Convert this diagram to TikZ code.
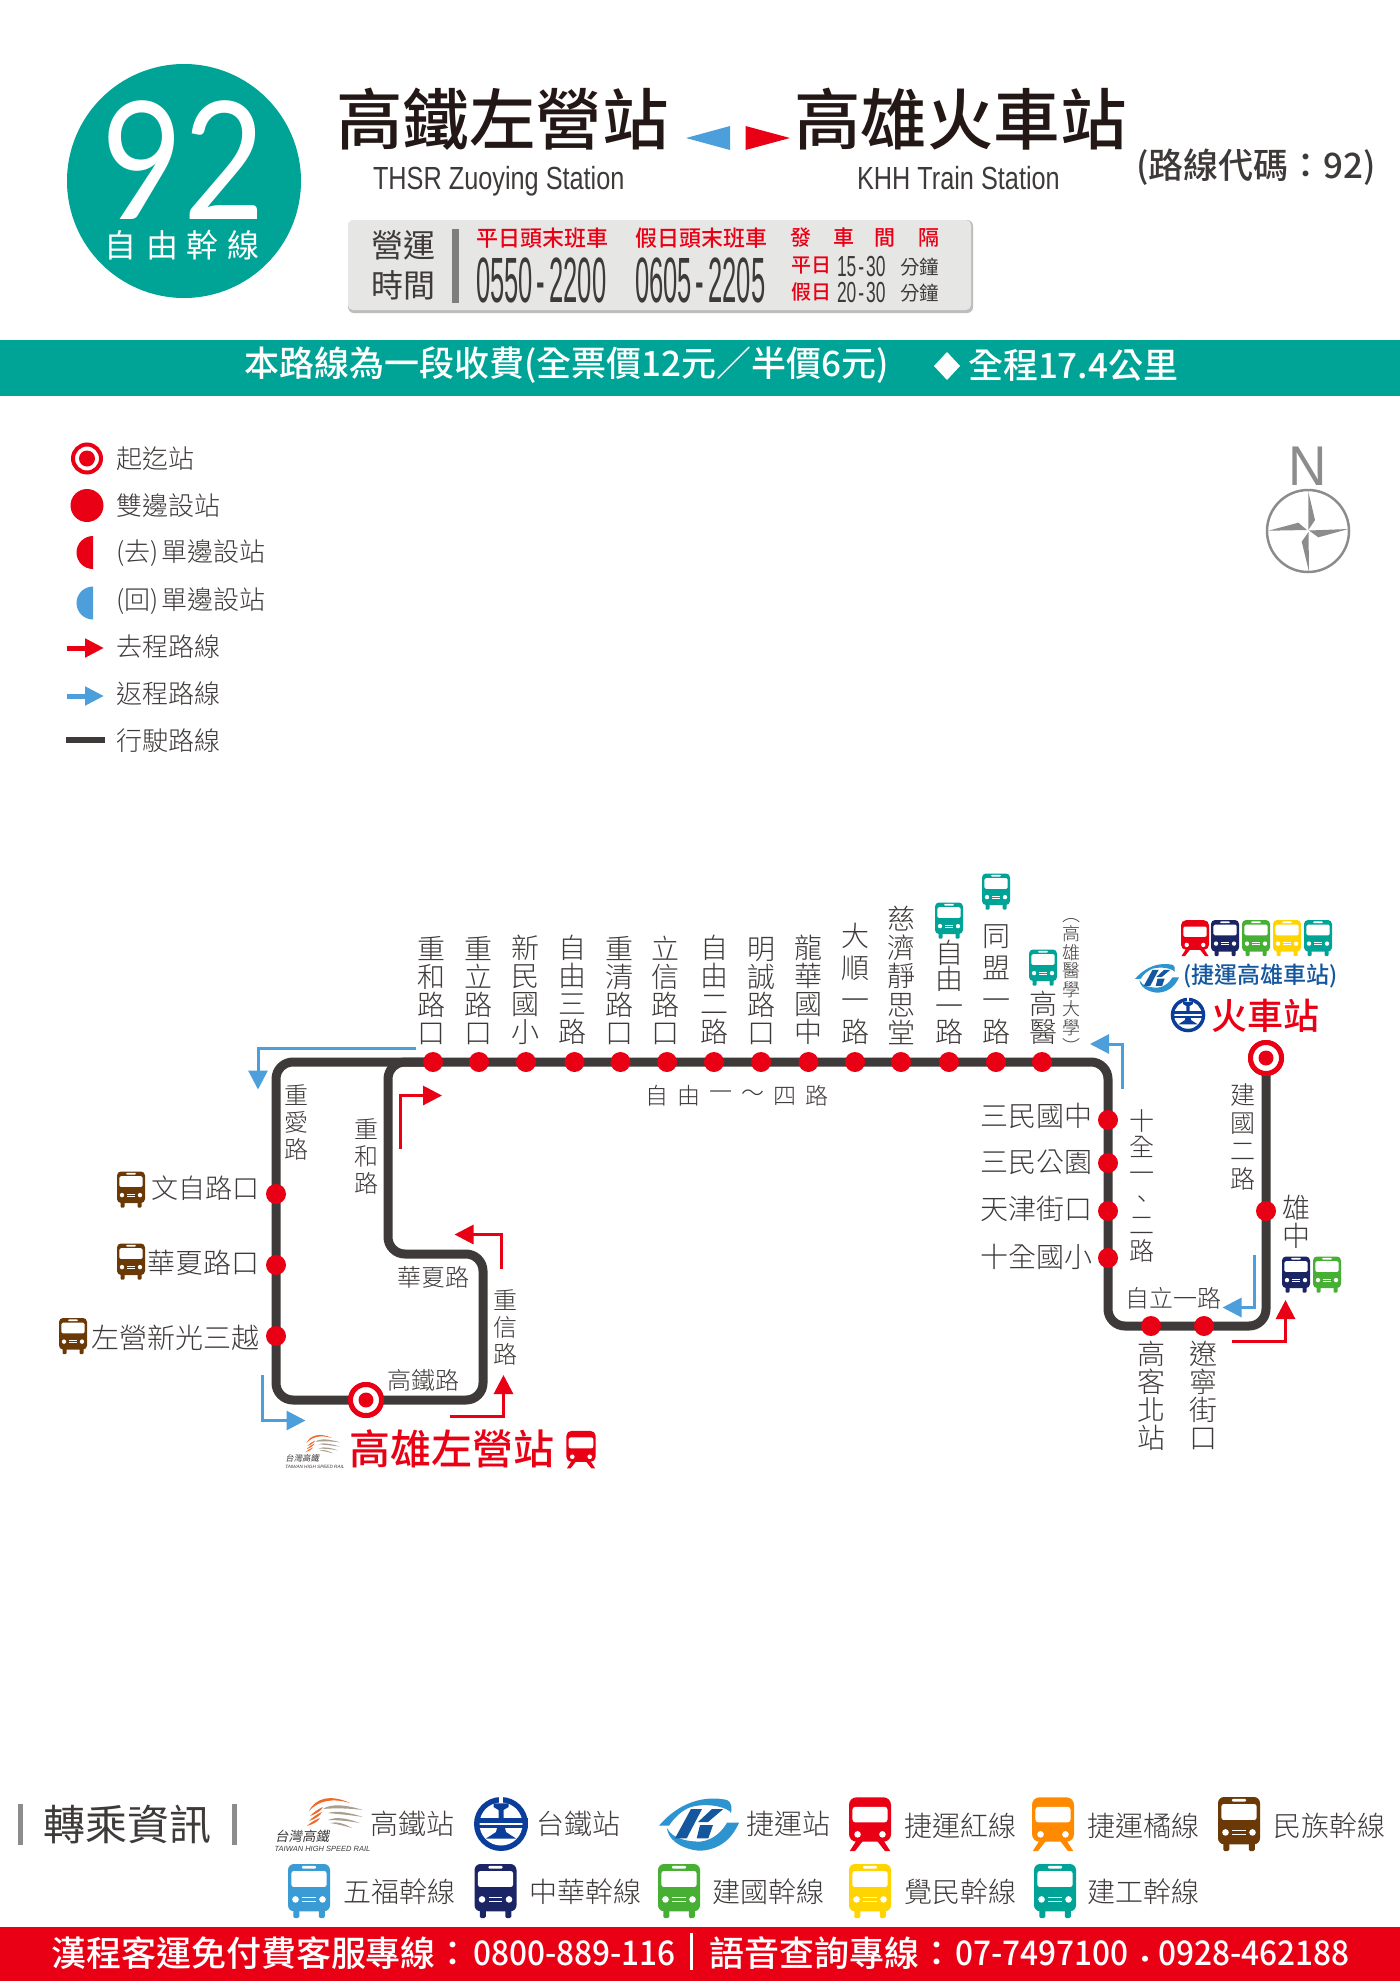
\documentclass[tikz,border=0pt]{standalone}
\usepackage{fontspec}
\usetikzlibrary{arrows.meta}
\setmainfont{Noto Sans CJK TC}[UprightFont=* Light,BoldFont=* Bold]
\newfontfamily\cjkreg{Noto Sans CJK TC}
\newfontfamily\cjkbold{Noto Sans CJK TC Medium}
\newfontfamily\cjkheavy{Noto Sans CJK TC Bold}
\newfontfamily\cjkslant{Noto Sans CJK TC}[FakeSlant=.2]
\newfontfamily\numlight{Lato}[FakeStretch=.86]
\newfontfamily\hoursf{Liberation Sans}[FakeStretch=.4]
\newfontfamily\minf{Liberation Sans}[FakeStretch=.6]
\newfontfamily\thsrf{Liberation Sans}[FakeStretch=.79]
\newfontfamily\footf{Noto Sans CJK TC Medium}[FakeStretch=.93]
\newfontfamily\nf{Liberation Sans}[FakeStretch=.95]
\newfontfamily\kf{Liberation Sans}
\definecolor{teal92}{HTML}{00A497}
\definecolor{redx}{HTML}{EA0014}
\definecolor{bluex}{HTML}{4C9FDB}
\definecolor{ink}{HTML}{3E3A39}
\definecolor{title}{HTML}{231815}
\definecolor{brownx}{HTML}{6A3906}
\definecolor{navyx}{HTML}{1B2465}
\definecolor{greenx}{HTML}{47B034}
\definecolor{yellowx}{HTML}{FFD400}
\definecolor{skyx}{HTML}{3A9BD5}
\definecolor{orangex}{HTML}{FF8A00}
\definecolor{trablue}{HTML}{0B3E9A}
\definecolor{kblue}{HTML}{14579E}
\definecolor{kcyan}{HTML}{2E94D0}
\definecolor{gboxc}{HTML}{E6E6E5}
\definecolor{gshadow}{HTML}{BDBDBD}
\definecolor{compass}{HTML}{8C8C8C}
\definecolor{swo}{HTML}{EE6A2C}
\definecolor{swg}{HTML}{A89F90}
\newcommand\fz[1]{\fontsize{#1}{#1}\selectfont}
\tikzset{
  x=1pt,y=-1pt,
  every node/.style={inner sep=0pt,outer sep=0pt,text=ink},
  vt/.style 2 args={align=center,font=\fontsize{#1}{#2}\selectfont},
  stn/.style={circle,fill=redx,minimum size=20pt},
  termo/.style={circle,fill=white,draw=redx,line width=5pt,minimum size=31pt},
  termi/.style={circle,fill=redx,minimum size=15pt},
  route/.style={draw=ink,line width=9pt,rounded corners=17pt},
  goarrow/.style={draw=redx,line width=3pt,-{Triangle[length=19pt,width=19pt]}},
  backarrow/.style={draw=bluex,line width=3pt,-{Triangle[length=19pt,width=19pt]}},
}
\newcommand\busicon[4]{\begin{scope}[shift={(#1,#2)},scale=#4]
  \fill[#3,rounded corners=#4*1pt] (-10.5,10) rectangle (-6.5,18);\fill[#3,rounded corners=#4*1pt] (6.5,10) rectangle (10.5,18);
  \fill[#3,rounded corners=#4*4pt] (-14,-18) rectangle (14,13.5);
  \fill[white,rounded corners=#4*1.5pt] (-11.7,-13.3) rectangle (11.7,-2.7);
  \fill[white,rounded corners=#4*.8pt] (-4.8,-16.7) rectangle (4.8,-14.9);
  \fill[white] (-9,5.6) circle[radius=2.2];\fill[white] (9,5.6) circle[radius=2.2];
  \fill[white] (-4.4,4) rectangle (4.4,4.8);\fill[white] (-4.4,6.4) rectangle (4.4,7.2);
\end{scope}}
\newcommand\trainicon[4]{\begin{scope}[shift={(#1,#2)},scale=#4]
  \fill[#3] (-9,11) -- (-4.5,11) -- (-10,18) -- (-13.5,18) -- cycle;
  \fill[#3] (9,11) -- (4.5,11) -- (10,18) -- (13.5,18) -- cycle;
  \fill[#3,rounded corners=#4*5pt] (-14,-17.8) rectangle (14,11.8);
  \fill[white,rounded corners=#4*2pt] (-11.7,-11.5) rectangle (11.7,-1.1);
  \fill[white] (-8.3,6.9) circle[radius=2.2];\fill[white] (8.3,6.9) circle[radius=2.2];
\end{scope}}
\newcommand\tralogo[3]{\begin{scope}[shift={(#1,#2)},scale=#3]
  \fill[trablue] (0,0) circle[radius=27];
  \fill[white] (0,0) circle[radius=21.5];
  \fill[white] (-2,-28) rectangle (2,-20);
  \fill[trablue] (-7.5,-20.7) -- (7.5,-20.7) -- (7.5,-17) -- (2.5,-14) -- (2.5,-5) -- (-2.5,-5) -- (-2.5,-14) -- (-7.5,-17) -- cycle;
  \fill[trablue] (-26.5,-5.7) rectangle (26.5,-1.3);
  \fill[trablue] (-26.5,.8) rectangle (26.5,4.3);
  \fill[trablue] (-4,4) -- (4,4) -- (5,8) -- (15,14.5) -- (-15,14.5) -- (-5,8) -- cycle;
\end{scope}}
\newcommand\klogo[3]{\begin{scope}[shift={(#1,#2)},scale=#3]
  \fill[kcyan] (-40,1.7) .. controls (-20,-22) and (6,-29) .. (28,-24) .. controls (33,-22) and (33,-15) .. (32,-11) .. controls (30,-16) and (10,-22) .. (-8,-17) .. controls (-17,-14) and (-25,-6) .. (-30,1.7) -- cycle;
  \fill[kcyan] (40,-1.3) .. controls (35,10) and (25,25) .. (2,26.7) .. controls (-5,27) and (-30,22) .. (-32,4) .. controls (-27,15) and (-10,18) .. (2,17.5) .. controls (15,16) and (24,6) .. (28,-1.3) -- cycle;
  \fill[kblue] (-8,-15) -- (3,-15) -- (-12.3,14.3) -- (-24,14.3) -- cycle;
  \fill[kblue] (-1,-2) -- (13,-15) -- (24.3,-15) -- (9,-2) -- cycle;
  \fill[kblue] (1,1) -- (14,1) -- (9.3,14.3) -- (-2.3,14.3) -- cycle;
\end{scope}}
\newcommand\thsrlogo[3]{\begin{scope}[shift={(#1,#2)},scale=#3]
  \fill[swo] (-12,-13) .. controls (-6,-26) and (10,-30) .. (29,-21) .. controls (12,-26) and (-2,-24) .. (-12,-13) -- cycle;
  \fill[swo] (-11,-8) .. controls (-7,-12) and (-3,-15) .. (2,-17) .. controls (0,-13) and (-5,-10) .. (-11,-8) -- cycle;
  \fill[swo] (-12,-3) .. controls (-8,-7) and (-4,-10) .. (1,-12) .. controls (-1,-8) and (-6,-5) .. (-12,-3) -- cycle;
  \fill[swo] (-14,2) .. controls (-10,-2) and (-6,-4) .. (-1,-6) .. controls (-3,-2) and (-8,0) .. (-14,2) -- cycle;
  \fill[swg] (2,-15) .. controls (10,-21) and (26,-19) .. (42,-14) .. controls (26,-16) and (12,-16) .. (2,-15) -- cycle;
  \fill[swg] (7,-11) .. controls (16,-14) and (30,-11) .. (42,-7) .. controls (30,-9) and (16,-10) .. (7,-11) -- cycle;
  \fill[swg] (7,-4) .. controls (16,-8) and (28,-5) .. (39,-1) .. controls (28,-3) and (16,-4) .. (7,-4) -- cycle;
  \fill[swg] (9,-1) .. controls (16,-3) and (24,0) .. (31,4) .. controls (24,2) and (16,0) .. (9,-1) -- cycle;
  \node[transform shape,font=\cjkslant\fz{13.5}] (ta#1) at (-19,12) {台灣高鐵};
  \node[transform shape,font=\kf\itshape\fz{7.5}] (tb#1) at (1.5,25) {TAIWAN HIGH SPEED RAIL};
\end{scope}}
\begin{document}
\begin{tikzpicture}
\path[use as bounding box,fill=white] (0,0) rectangle (1400,1981);

% header
\node[circle,fill=teal92,minimum size=234pt] (badge) at (184,181) {};
\node[anchor=base,text=white,font=\numlight\fz{164},text height=118pt,text depth=0pt] (num) at (183,219) {92};
\foreach \c/\x/\n in {自/120/a,由/162/b,幹/202/c,線/243/d}{\node[text=white,font=\cjkreg\fz{32}] (bt\n) at (\x,245) {\c};}
\node[anchor=west,text=title,font=\cjkbold\fz{66.5}] (t1) at (336,119) {高鐵左營站};
\node[anchor=west,text=title,font=\cjkbold\fz{66.5}] (t2) at (794,119) {高雄火車站};
\fill[bluex] (686,138) -- (730,126) -- (730,150) -- cycle;
\fill[redx] (790,138) -- (745.5,126) -- (745.5,150) -- cycle;
\node[anchor=base west,font=\thsrf\fz{32}] (e1) at (373,189) {THSR Zuoying Station};
\node[anchor=base west,font=\thsrf\fz{32}] (e2) at (857,189) {KHH Train Station};
\node[anchor=west,font=\cjkbold\fz{35}] (code) at (1136,167) {(路線代碼：92)};

% time box
\fill[gshadow,rounded corners=6pt] (348,220) rectangle (973,313);
\fill[gboxc,rounded corners=5pt] (348,220) rectangle (971,310);
\node[font=\cjkreg\fz{32}] (y1) at (403,245) {營運};
\node[font=\cjkreg\fz{32}] (y2) at (403,285) {時間};
\fill[compass!90!black] (452,229) rectangle (459,303);
\node[anchor=west,text=redx,font=\cjkbold\fz{22}] (h1) at (476,238) {平日頭末班車};
\node[anchor=west,text=redx,font=\cjkbold\fz{22}] (h2) at (635,238) {假日頭末班車};
\foreach \c/\x/\n in {發/801/a,車/844/b,間/885/c,隔/929/d}{\node[text=redx,font=\cjkbold\fz{21}] (ha\n) at (\x,238) {\c};}
\node[anchor=base west,font=\hoursf\fz{64}] (v1) at (476,302) {0550\hspace{4pt}-\hspace{4pt}2200};
\node[anchor=base west,font=\hoursf\fz{64}] (v2) at (635,302) {0605\hspace{4pt}-\hspace{4pt}2205};
\node[anchor=west,text=redx,font=\cjkbold\fz{20}] (w1) at (791,266) {平日};
\node[anchor=west,text=redx,font=\cjkbold\fz{20}] (w2) at (791,292) {假日};
\node[anchor=base west,font=\minf\fz{29}] (w3) at (837,276) {15\hspace{2pt}-\hspace{2pt}30};
\node[anchor=base west,font=\minf\fz{29}] (w4) at (837,302) {20\hspace{2pt}-\hspace{2pt}30};
\node[anchor=west,font=\cjkreg\fz{19.5}] (w5) at (900,267) {分鐘};
\node[anchor=west,font=\cjkreg\fz{19.5}] (w6) at (900,293) {分鐘};

% teal band
\fill[teal92] (0,339.5) rectangle (1400,396);
\node[anchor=west,text=white,font=\cjkbold\fz{35}] (fare) at (244,365) {本路線為一段收費(全票價12元／半價6元)};
\fill[white] (947,352) -- (960,366) -- (947,380) -- (934,366) -- cycle;
\node[anchor=west,text=white,font=\cjkbold\fz{35}] (dist) at (968,365) {全程17.4公里};

% legend
\node[termo,minimum size=28pt,line width=4pt] (l1) at (87,458.5) {};
\node[termi,minimum size=16pt] (l1i) at (87,458.5) {};
\node[stn,minimum size=33pt] (l2) at (87,505.5) {};
\fill[redx] (93,569) arc[start angle=90,end angle=270,radius=16.5] -- cycle;
\fill[bluex] (93,619.5) arc[start angle=90,end angle=270,radius=16.5] -- cycle;
\coordinate (l5a) at (67,648);\coordinate (l5b) at (104,648);
\draw[redx,line width=5pt,-{Triangle[length=19pt,width=18pt]}] (l5a) -- (l5b);
\coordinate (l6a) at (67,696);\coordinate (l6b) at (104,696);
\draw[bluex,line width=5pt,-{Triangle[length=19pt,width=18pt]}] (l6a) -- (l6b);
\coordinate (l7a) at (66,740);\coordinate (l7b) at (105,740);
\draw[ink,line width=6pt] (l7a) -- (l7b);
\foreach \t/\y/\n in {起迄站/459/a,雙邊設站/506/b,(去)\hspace{3pt}單邊設站/553.5/c,(回)\hspace{3pt}單邊設站/601/d,去程路線/647/e,返程路線/694/f,行駛路線/741/g}{
  \node[anchor=west,font=\fz{26}] (lt\n) at (116,\y) {\t};}

% compass
\node[anchor=base,text=compass,font=\nf\fz{56}] (north) at (1308,485) {N};
\draw[compass,line width=2.5pt] (1308,531) circle[radius=41];
\fill[compass] (1308.3,491.7) -- (1315,520) -- (1308.3,530) -- cycle;
\fill[compass] (1348.3,529) -- (1318.3,537.3) -- (1309,530.5) -- cycle;
\fill[compass] (1309,571.7) -- (1301.7,541.7) -- (1308.5,532) -- cycle;
\fill[compass] (1268.3,530.7) -- (1298.3,522.7) -- (1307,530) -- cycle;

% route
\coordinate (ra) at (276,1400);\coordinate (rb) at (276,1062);\coordinate (rc) at (1108,1062);
\coordinate (rd) at (1108,1326);\coordinate (re) at (1266,1326);
\coordinate (rf) at (483,1400);\coordinate (rg) at (483,1254);\coordinate (rh) at (388,1254);\coordinate (ri) at (388,1062);
\coordinate (rj) at (433,1062);
\node[termo] (tA) at (366,1400) {};
\node[termo] (tB) at (1266,1058) {};
\draw[route] (tA.center) -- (ra) -- (rb) -- (rc) -- (rd) -- (re) -- (tB.center);
\draw[route] (tA.center) -- (rf) -- (rg) -- (rh) -- (ri) -- (rj);
\node[termo] (tA2) at (tA) {};\node[termi] (tAi) at (tA) {};
\node[termo] (tB2) at (tB) {};\node[termi] (tBi) at (tB) {};

% stations
\foreach \n/\x in {s1/433,s2/479,s3/526,s4/574.5,s5/620.5,s6/667,s7/714,s8/761,s9/808.5,s10/855,s11/901,s12/949,s13/996,s14/1042}{
  \node[stn] (\n) at (\x,1062) {};}
\node[stn] (r1) at (1108,1120) {};\node[stn] (r2) at (1108,1163) {};\node[stn] (r3) at (1108,1211) {};\node[stn] (r4) at (1108,1258) {};
\node[stn] (b1) at (1151,1326) {};\node[stn] (b2) at (1204,1326) {};
\node[stn] (x1) at (1266,1211) {};
\node[stn] (w1s) at (276,1194) {};\node[stn] (w2s) at (276,1265) {};\node[stn] (w3s) at (276,1336) {};

% top labels
\foreach \n/\x/\p/\t in {a1/431/28/重\\和\\路\\口,a2/478/28/重\\立\\路\\口,a3/525/28/新\\民\\國\\小,a4/572/28/自\\由\\三\\路,a5/619/28/重\\清\\路\\口,a6/665/28/立\\信\\路\\口,a7/714/28/自\\由\\二\\路,a8/761/28/明\\誠\\路\\口,a9/808/28/龍\\華\\國\\中,a10/855/32/大\\順\\一\\路,a11/901/28.5/慈\\濟\\靜\\思\\堂,a12/949/26.5/自\\由\\一\\路,a13/996/32/同\\盟\\一\\路,a14/1043/28/高\\醫}{
  \node[vt={28}{\p},anchor=south] (\n) at (\x,1045) {\t};}
\node[vt={18}{18.8},anchor=south] (a15) at (1071,1053) {︵\\高\\雄\\醫\\學\\大\\學\\︶};
\busicon{949}{920.5}{teal92}{1}
\busicon{996}{891.5}{teal92}{1}
\busicon{1043}{967.5}{teal92}{1}

% side labels
\node[anchor=east,font=\fz{28}] (c1) at (1092,1115.5) {三民國中};
\node[anchor=east,font=\fz{28}] (c2) at (1092,1162) {三民公園};
\node[anchor=east,font=\fz{28}] (c3) at (1092,1209) {天津街口};
\node[anchor=east,font=\fz{28}] (c4) at (1092,1256.5) {十全國小};
\node[anchor=east,font=\fz{27}] (d1) at (259,1188) {文自路口};
\node[anchor=east,font=\fz{28}] (d2) at (259,1263) {華夏路口};
\node[anchor=east,font=\fz{28}] (d3) at (259,1337.5) {左營新光三越};
\busicon{131}{1189.5}{brownx}{1}
\busicon{131}{1261.5}{brownx}{1}
\busicon{73}{1336}{brownx}{1}

% road labels
\node[vt={24}{27}] (e3) at (296,1122) {重\\愛\\路};
\node[vt={24}{27}] (e4) at (366,1156) {重\\和\\路};
\node[font=\fz{24}] (e5) at (433,1277) {華夏路};
\node[font=\fz{24}] (e6) at (423,1380) {高鐵路};
\node[vt={24}{27}] (e7) at (505,1327) {重\\信\\路};
\foreach \c/\x/\n in {自/657/a,由/689/b,一/721/c,～/753/d,四/785/e,路/817/f}{\node[font=\fz{23}] (m\n) at (\x,1096) {\c};}
\node[vt={25}{26}] (e8) at (1142,1185.5) {十\\全\\一\\、\\二\\路};
\node[font=\fz{24}] (e9) at (1173,1298) {自立一路};
\node[vt={25}{28}] (e10) at (1243,1137) {建\\國\\二\\路};
\node[vt={28}{28.5},anchor=north] (e11) at (1296,1195) {雄\\中};
\node[vt={28}{28},anchor=north] (e12) at (1151,1341) {高\\客\\北\\站};
\node[vt={28}{28},anchor=north] (e13) at (1203,1341) {遼\\寧\\街\\口};
\busicon{1296}{1274.5}{navyx}{1}
\busicon{1327}{1274.5}{greenx}{1}

% terminal labels
\trainicon{1195}{938}{redx}{1}
\busicon{1225}{938}{navyx}{1}
\busicon{1256}{938}{greenx}{1}
\busicon{1287}{938}{yellowx}{1}
\busicon{1318}{938}{teal92}{1}
\klogo{1157}{978}{.55}
\node[anchor=west,text=kblue,font=\cjkbold\fz{23}] (kt) at (1183,976) {(捷運高雄車站)};
\tralogo{1188}{1015}{.64}
\node[anchor=west,text=redx,font=\cjkbold\fz{36}] (hc) at (1211,1016) {火車站};
\thsrlogo{314}{1451}{.62}
\node[anchor=west,text=redx,font=\cjkbold\fz{41}] (hz) at (349,1449) {高雄左營站};
\trainicon{581}{1449.5}{redx}{1.05}

% direction arrows
\coordinate (f1) at (416,1048);\coordinate (f2) at (258,1048);\coordinate (f3) at (258,1089.5);
\draw[backarrow] (f1) -- (f2) -- (f3);
\coordinate (g1) at (400.5,1149);\coordinate (g2) at (400.5,1095.5);\coordinate (g3) at (442,1095.5);
\draw[goarrow] (g1) -- (g2) -- (g3);
\coordinate (g4) at (501,1269);\coordinate (g5) at (501,1234.5);\coordinate (g6) at (454.5,1234.5);
\draw[goarrow] (g4) -- (g5) -- (g6);
\coordinate (g7) at (450,1416);\coordinate (g8) at (503.5,1416);\coordinate (g9) at (503.5,1375);
\draw[goarrow] (g7) -- (g8) -- (g9);
\coordinate (f4) at (262.5,1375);\coordinate (f5) at (262.5,1420.5);\coordinate (f6) at (305.5,1420.5);
\draw[backarrow] (f4) -- (f5) -- (f6);
\coordinate (f7) at (1122,1089);\coordinate (f8) at (1122,1044);\coordinate (f9) at (1090,1044);
\draw[backarrow] (f7) -- (f8) -- (f9);
\coordinate (f10) at (1254.5,1254.5);\coordinate (f11) at (1254.5,1307.5);\coordinate (f12) at (1222.5,1307.5);
\draw[backarrow] (f10) -- (f11) -- (f12);
\coordinate (g10) at (1232,1341);\coordinate (g11) at (1285.5,1341);\coordinate (g12) at (1285.5,1300);
\draw[goarrow] (g10) -- (g11) -- (g12);

% transfer legend
\fill[compass] (18,1804) rectangle (23,1845);
\fill[compass] (232,1804) rectangle (237,1845);
\node[font=\cjkreg\fz{42}] (tr) at (127,1824) {轉乘資訊};
\thsrlogo{321}{1824}{1}
\node[anchor=west,font=\fz{28}] (k1) at (370,1824) {高鐵站};
\tralogo{501}{1824}{1}
\node[anchor=west,font=\fz{28}] (k2) at (536,1824) {台鐵站};
\klogo{699}{1824}{1}
\node[anchor=west,font=\fz{28}] (k3) at (746,1824) {捷運站};
\trainicon{870}{1824}{redx}{1.5}
\node[anchor=west,font=\fz{28}] (k4) at (904,1826) {捷運紅線};
\trainicon{1053}{1824}{orangex}{1.5}
\node[anchor=west,font=\fz{28}] (k5) at (1087,1826) {捷運橘線};
\busicon{1239}{1824}{brownx}{1.5}
\node[anchor=west,font=\fz{28}] (k6) at (1273,1826) {民族幹線};
\busicon{309}{1891}{skyx}{1.5}
\node[anchor=west,font=\fz{28}] (k7) at (343,1892) {五福幹線};
\busicon{495.5}{1891}{navyx}{1.5}
\node[anchor=west,font=\fz{28}] (k8) at (529,1892) {中華幹線};
\busicon{679}{1891}{greenx}{1.5}
\node[anchor=west,font=\fz{28}] (k9) at (712,1892) {建國幹線};
\busicon{870}{1891}{yellowx}{1.5}
\node[anchor=west,font=\fz{28}] (k10) at (904,1892) {覺民幹線};
\busicon{1055}{1891}{teal92}{1.5}
\node[anchor=west,font=\fz{28}] (k11) at (1087,1892) {建工幹線};

% footer
\fill[redx] (0,1927) rectangle (1400,1981);
\node[anchor=west,text=white,font=\cjkbold\fz{35}] (ft1) at (51,1953) {漢程客運免付費客服專線：};
\node[anchor=base west,text=white,font=\footf\fz{34}] (ft2) at (473,1965) {0800-889-116};
\fill[white] (689.5,1933) rectangle (692.5,1970);
\node[anchor=west,text=white,font=\cjkbold\fz{35}] (ft3) at (709,1953) {語音查詢專線：};
\node[anchor=base west,text=white,font=\footf\fz{34}] (ft4) at (955,1965) {07-7497100};
\node[text=white,font=\cjkbold\fz{34}] (ftd) at (1145,1964) {．};
\node[anchor=base east,text=white,font=\footf\fz{34}] (ft5) at (1350,1965) {0928-462188};
\end{tikzpicture}
\end{document}
